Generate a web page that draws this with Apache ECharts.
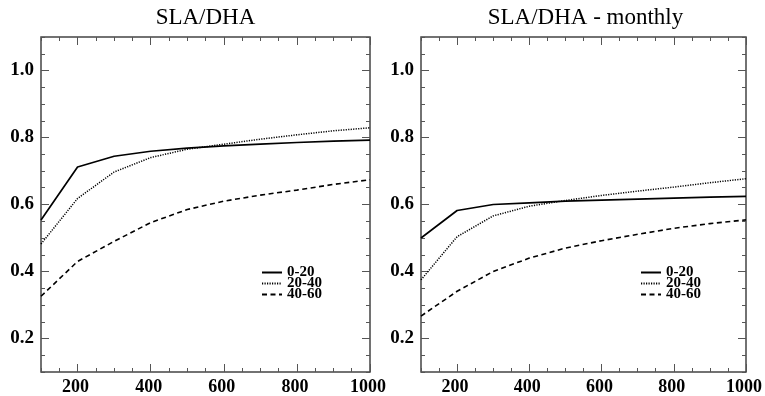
<!DOCTYPE html>
<html><head><meta charset="utf-8">
<script src="https://cdn.jsdelivr.net/npm/echarts@6/dist/echarts.min.js"></script>
<style>html,body{margin:0;padding:0;background:#fff}#c{width:765px;height:396px}</style>
</head><body><div id="c"></div>
<script>
const xValues = [100, 200, 300, 400, 500, 600, 700, 800, 900, 1000];
const seriesNames = ['0-20', '20-40', '40-60'];
const titles = ['SLA/DHA', 'SLA/DHA - monthly'];
// left panel: SLA/DHA
const left_0_20  = [0.554, 0.712, 0.744, 0.759, 0.768, 0.775, 0.780, 0.785, 0.789, 0.792];
const left_20_40 = [0.482, 0.618, 0.697, 0.740, 0.765, 0.780, 0.795, 0.808, 0.820, 0.829];
const left_40_60 = [0.326, 0.430, 0.490, 0.546, 0.585, 0.610, 0.628, 0.643, 0.660, 0.674];
// right panel: SLA/DHA - monthly
const right_0_20  = [0.500, 0.582, 0.600, 0.605, 0.610, 0.613, 0.616, 0.619, 0.622, 0.624];
const right_20_40 = [0.375, 0.504, 0.566, 0.595, 0.612, 0.627, 0.640, 0.652, 0.665, 0.677];
const right_40_60 = [0.267, 0.341, 0.400, 0.440, 0.470, 0.492, 0.511, 0.529, 0.543, 0.554];
const xTickLabels = [200, 400, 600, 800, 1000];
const yTickLabels = [0.2, 0.4, 0.6, 0.8, 1.0];

const panels = [
  { title: titles[0], data: [left_0_20, left_20_40, left_40_60] },
  { title: titles[1], data: [right_0_20, right_20_40, right_40_60] }
];
const gridLefts = [41, 421];
const gridWidth = 329;
const FONT = 'Liberation Serif';
const tickColor = '#555';
const lineTypes = ['solid', [1.2, 1.3], [5, 3.5]];
const lineWidths = [1.7, 1.5, 1.6];

const chart = echarts.init(document.getElementById('c'), null, { renderer: 'canvas' });
const grid = [], xAxis = [], yAxis = [], series = [], title = [], legend = [];

panels.forEach((p, g) => {
  grid.push({ left: gridLefts[g], top: 37, width: gridWidth, height: 338,
    show: true, borderColor: '#444', borderWidth: 1.5, backgroundColor: 'transparent' });
  title.push({ text: p.title, left: gridLefts[g] + gridWidth / 2, top: 6, textAlign: 'center', padding: 0,
    textStyle: { fontFamily: FONT, fontWeight: 'normal', fontSize: 23, color: '#000' } });
  const xBase = { type: 'value', gridIndex: g, min: 100, max: 1000, splitLine: { show: false }, axisLine: { show: false } };
  const yBase = { type: 'value', gridIndex: g, min: 0.1, max: 1.1, splitLine: { show: false }, axisLine: { show: false } };
  ['bottom', 'top'].forEach(pos => {
    xAxis.push(Object.assign({}, xBase, { position: pos, interval: 50,
      axisTick: { show: true, inside: true, length: 4, lineStyle: { color: tickColor, width: 1 } },
      axisLabel: pos === 'bottom' ? { show: true, customValues: xTickLabels, margin: 6, color: '#000',
        padding: [0, 4, 0, 0], formatter: v => String(v),
        fontFamily: FONT, fontWeight: 'bold', fontSize: 18 } : { show: false } }));
    xAxis.push(Object.assign({}, xBase, { position: pos,
      axisTick: { show: true, inside: true, length: 8, customValues: xTickLabels, lineStyle: { color: tickColor, width: 1 } },
      axisLabel: { show: false } }));
  });
  ['left', 'right'].forEach(pos => {
    yAxis.push(Object.assign({}, yBase, { position: pos, interval: 0.05,
      axisTick: { show: true, inside: true, length: 4, lineStyle: { color: tickColor, width: 1 } },
      axisLabel: pos === 'left' ? { show: true, customValues: yTickLabels, margin: 7, color: '#000',
        fontFamily: FONT, fontWeight: 'bold', fontSize: 19, formatter: v => Number(v).toFixed(1) } : { show: false } }));
    yAxis.push(Object.assign({}, yBase, { position: pos,
      axisTick: { show: true, inside: true, length: 8, customValues: yTickLabels, lineStyle: { color: tickColor, width: 1 } },
      axisLabel: { show: false } }));
  });
  p.data.forEach((arr, k) => {
    series.push({ type: 'line', name: seriesNames[k], xAxisIndex: 4 * g, yAxisIndex: 4 * g,
      data: xValues.map((x, i) => [x, arr[i]]), symbol: 'none', silent: true, animation: false,
      lineStyle: { color: '#000', width: lineWidths[k], type: lineTypes[k] }, itemStyle: { color: '#000' } });
  });
  legend.push({ data: seriesNames, orient: 'vertical', left: [261, 640][g], top: 265, padding: 0,
    itemWidth: 20, itemHeight: 8, itemGap: -4, selectedMode: false,
    itemStyle: { opacity: 0 },
    textStyle: { fontFamily: FONT, fontWeight: 'bold', fontSize: 15, lineHeight: 11, color: '#000' } });
});

chart.setOption({ animation: false, backgroundColor: '#fff', title, grid, xAxis, yAxis, series, legend });
</script></body></html>
